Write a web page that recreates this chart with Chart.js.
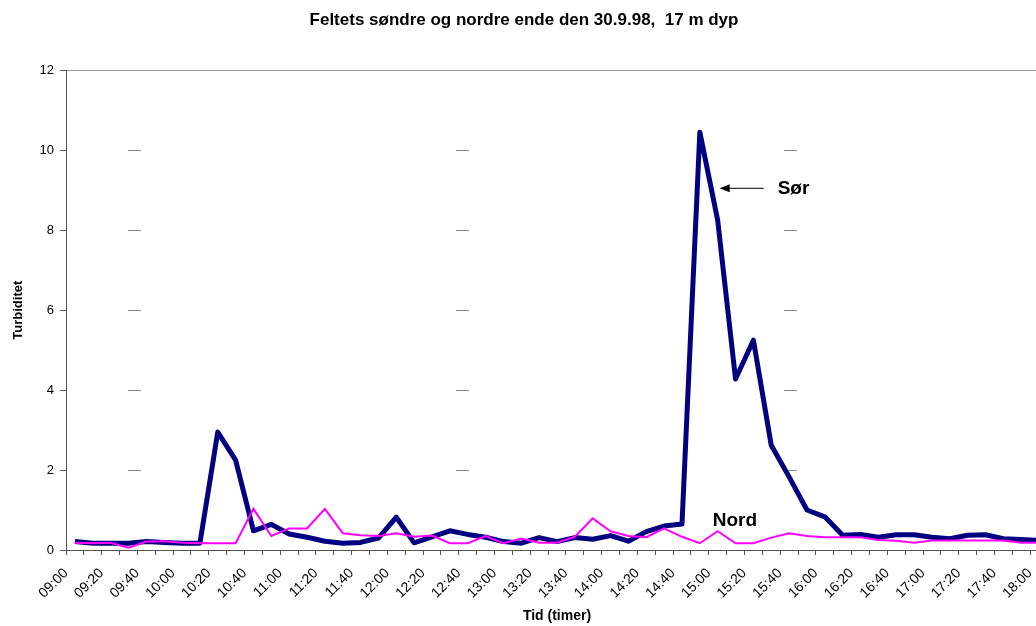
<!DOCTYPE html>
<html>
<head>
<meta charset="utf-8">
<script src="https://cdn.jsdelivr.net/npm/chart.js@4.4.0/dist/chart.umd.min.js"></script>
<style>
  html, body { margin: 0; padding: 0; background: #fff; overflow: hidden; }
  #wrap { width: 1036px; height: 626px; overflow: hidden; }
</style>
</head>
<body>
<div id="wrap"><canvas id="turbChart" width="1066" height="626"></canvas></div>
<script>
const times = ['09:00', '09:10', '09:20', '09:30', '09:40', '09:50', '10:00', '10:10', '10:20', '10:30',
    '10:40', '10:50', '11:00', '11:10', '11:20', '11:30', '11:40', '11:50', '12:00', '12:10',
    '12:20', '12:30', '12:40', '12:50', '13:00', '13:10', '13:20', '13:30', '13:40', '13:50',
    '14:00', '14:10', '14:20', '14:30', '14:40', '14:50', '15:00', '15:10', '15:20', '15:30',
    '15:40', '15:50', '16:00', '16:10', '16:20', '16:30', '16:40', '16:50', '17:00', '17:10',
    '17:20', '17:30', '17:40', '17:50', '18:00'];

// Sør (søndre ende)
const sor = [0.21, 0.17, 0.17, 0.17, 0.21, 0.19, 0.17, 0.17, 2.95, 2.25,
    0.48, 0.64, 0.40, 0.32, 0.22, 0.17, 0.19, 0.30, 0.82, 0.18,
    0.33, 0.48, 0.39, 0.32, 0.21, 0.17, 0.31, 0.21, 0.31, 0.27,
    0.36, 0.22, 0.46, 0.60, 0.65, 10.45, 8.25, 4.28, 5.25, 2.62,
    1.83, 1.00, 0.83, 0.37, 0.39, 0.32, 0.38, 0.38, 0.32, 0.28,
    0.37, 0.38, 0.28, 0.26, 0.24];

// Nord (nordre ende)
const nord = [0.18, 0.17, 0.18, 0.06, 0.21, 0.22, 0.18, 0.17, 0.17, 0.17,
    1.03, 0.35, 0.54, 0.54, 1.03, 0.42, 0.37, 0.35, 0.42, 0.33,
    0.36, 0.17, 0.17, 0.35, 0.17, 0.29, 0.18, 0.18, 0.33, 0.79,
    0.47, 0.35, 0.32, 0.54, 0.33, 0.17, 0.47, 0.17, 0.17, 0.31,
    0.42, 0.35, 0.32, 0.32, 0.32, 0.25, 0.23, 0.18, 0.24, 0.24,
    0.24, 0.24, 0.24, 0.18, 0.18];

const yMin = 0;
const yMax = 12;
const yStep = 2;

Chart.defaults.font.family = '"Liberation Sans", Arial, sans-serif';
Chart.defaults.color = '#000';

// text labels "Sør" with arrow and "Nord"
const notesPlugin = {
    id: 'notes',
    afterDatasetsDraw(chart) {
        const { ctx, scales: { x, y } } = chart;
        const px = x.getPixelForValue(36);
        const ay = y.getPixelForValue(9.05);
        ctx.save();
        ctx.fillStyle = '#000';
        ctx.strokeStyle = '#000';
        ctx.font = 'bold 19px "Liberation Sans", Arial, sans-serif';
        ctx.textBaseline = 'middle';
        ctx.textAlign = 'left';
        ctx.fillText('Sør', px + 60, ay);
        ctx.lineWidth = 1;
        ctx.beginPath();
        ctx.moveTo(px + 46, ay);
        ctx.lineTo(px + 10, ay);
        ctx.stroke();
        ctx.beginPath();
        ctx.moveTo(px + 2, ay);
        ctx.lineTo(px + 12, ay - 4);
        ctx.lineTo(px + 12, ay + 4);
        ctx.closePath();
        ctx.fill();
        ctx.fillText('Nord', px - 5, y.getPixelForValue(0.72));
        ctx.restore();
    }
};

const ctx = document.getElementById('turbChart').getContext('2d');

let turbChart = new Chart(ctx, {
    type: 'line',
    data: {
        labels: times,
        datasets: [
            {
                label: 'Nord',
                data: nord,
                borderColor: '#ff00ff',
                borderWidth: 2,
                pointRadius: 0,
                tension: 0
            },
            {
                label: 'Sør',
                data: sor,
                borderColor: '#000080',
                borderWidth: 5,
                borderJoinStyle: 'round',
                pointRadius: 0,
                tension: 0
            }
        ]
    },
    options: {
        responsive: false,
        devicePixelRatio: 1,
        animation: false,
        layout: { padding: { left: 0, right: 18, top: 0, bottom: 0 } },
        plugins: {
            legend: { display: false },
            tooltip: { enabled: false },
            title: {
                display: true,
                text: 'Feltets søndre og nordre ende den 30.9.98,  17 m dyp',
                font: { size: 17, weight: 'bold' },
                padding: { top: 10, bottom: 40 }
            }
        },
        scales: {
            x: {
                offset: true,
                grid: {
                    offset: true,
                    drawOnChartArea: false,
                    tickLength: 5,
                    tickColor: '#555'
                },
                border: { color: '#555' },
                ticks: {
                    autoSkip: false,
                    minRotation: 45,
                    maxRotation: 45,
                    padding: 10,
                    labelOffset: -9,
                    font: { size: 14 },
                    callback: (v, i) => (i % 2 === 0 ? times[i] : '')
                },
                title: {
                    display: true,
                    text: 'Tid (timer)',
                    font: { size: 14, weight: 'bold' },
                    padding: { top: 0, bottom: 1 }
                },
                afterFit: (scale) => { scale.height = 76; }
            },
            y: {
                min: yMin,
                max: yMax,
                ticks: { stepSize: yStep, padding: 6, font: { size: 13 } },
                grid: {
                    color: (c) => (c.tick.value === yMax ? '#999' : (c.tick.value === yMin ? 'rgba(0,0,0,0)' : '#888')),
                    tickLength: 6,
                    tickColor: '#555'
                },
                border: {
                    color: '#555',
                    dash: (c) => (c.tick && c.tick.value > yMin && c.tick.value < yMax ? [13, 315] : []),
                    dashOffset: 267
                },
                title: {
                    display: true,
                    text: 'Turbiditet',
                    font: { size: 13, weight: 'bold' },
                    padding: { top: 11, bottom: 0 }
                },
                afterFit: (scale) => { scale.width = 66; }
            }
        }
    },
    plugins: [notesPlugin]
});
</script>
</body>
</html>
